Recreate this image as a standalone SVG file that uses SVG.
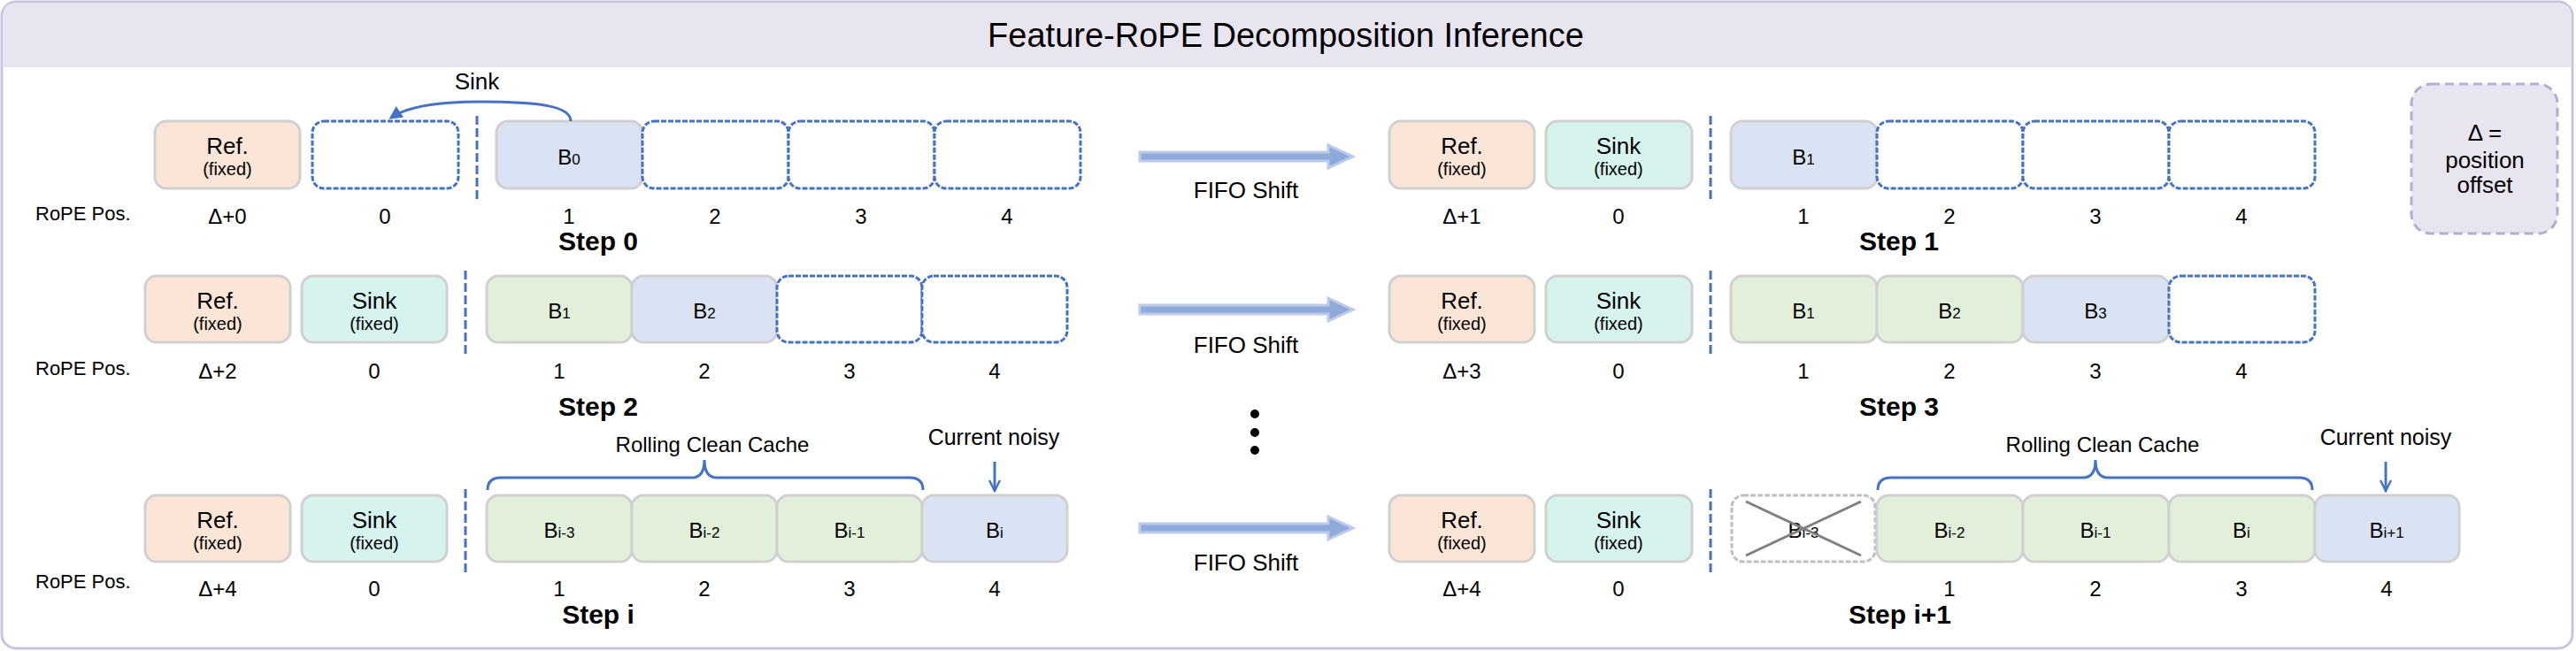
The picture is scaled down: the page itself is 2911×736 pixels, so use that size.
<svg xmlns="http://www.w3.org/2000/svg" width="2911" height="736" viewBox="0 0 2911 736">
<style>
text{font-family:"Comic Sans MS","Liberation Sans",sans-serif;fill:#000}
.title{font-size:38px;text-anchor:middle}
.lbl{font-size:24px;text-anchor:middle}
.box{font-size:26px;text-anchor:middle}
.sm{font-size:20px;text-anchor:middle}
.pos{font-size:24px;text-anchor:middle}
.fl{font-size:26px;text-anchor:middle}
.cn{font-size:25px;text-anchor:middle}
.leg{font-size:26px;text-anchor:middle}
.rope{font-size:22px}
.step{font-size:30px;font-weight:bold;text-anchor:middle}
.ref{fill:#fbe5d6;stroke:#d0d0d0;stroke-width:3}
.sink{fill:#d6f3ee;stroke:#d0d0d0;stroke-width:3}
.blue{fill:#dae3f3;stroke:#d0d0d0;stroke-width:3}
.green{fill:#e2f0d9;stroke:#d0d0d0;stroke-width:3}
.empty{fill:#fff;stroke:#4472c4;stroke-width:3;stroke-dasharray:6 2}
.gone{fill:#fff;stroke:#c0c0c0;stroke-width:3;stroke-dasharray:6 2}
.sep{stroke:#4472c4;stroke-width:3;stroke-dasharray:10 4;fill:none}
.bl{stroke:#4472c4;stroke-width:3;fill:none}
.fifo{fill:#8eaadb;stroke:#bccbea;stroke-width:3}
.sub{font-size:17px}
</style>
<defs>
<marker id="ah" viewBox="0 0 10 10" refX="8" refY="5" markerWidth="5" markerHeight="5" orient="auto-start-reverse" markerUnits="strokeWidth">
<path d="M0,0 L10,5 L0,10 z" fill="#4472c4"/>
</marker>
<marker id="va" viewBox="0 0 10 10" refX="9" refY="5" markerWidth="5" markerHeight="5" orient="auto" markerUnits="strokeWidth">
<path d="M1,1 L9,5 L1,9" fill="none" stroke="#4472c4" stroke-width="1.6"/>
</marker>
</defs>

<g id="frame">
<rect x="2" y="2" width="2905" height="731" rx="16" fill="#fff" stroke="#cbc3de" stroke-width="3"/>
<path d="M3.5,76 L3.5,18 Q3.5,3.5 18,3.5 L2891,3.5 Q2905.5,3.5 2905.5,18 L2905.5,76 Z" fill="#e8e5f1"/>
<text class="title" x="1453" y="53">Feature-RoPE Decomposition Inference</text>
</g>

<g id="legend">
<rect x="2725" y="95" width="165" height="169" rx="22" fill="#e8e4f0" stroke="#b6accf" stroke-width="3" stroke-dasharray="10 6"/>
<text class="leg" x="2808" y="159">Δ =</text>
<text class="leg" x="2808" y="190">position</text>
<text class="leg" x="2808" y="218">offset</text>
</g>

<g id="step0">
<text class="rope" x="40" y="249">RoPE Pos.</text>
<rect class="ref" x="175" y="137" width="164" height="76" rx="13"/>
<text class="box" x="257" y="174">Ref.</text><text class="sm" x="257" y="198">(fixed)</text>
<rect class="empty" x="353" y="137" width="165" height="76" rx="13"/>
<rect class="blue" x="561" y="137" width="165" height="76" rx="13"/>
<text class="lbl" x="643" y="186">B<tspan class="sub">0</tspan></text>
<rect class="empty" x="726" y="137" width="165" height="76" rx="13"/>
<rect class="empty" x="891" y="137" width="165" height="76" rx="13"/>
<rect class="empty" x="1056" y="137" width="165" height="76" rx="13"/>
<text class="pos" x="257" y="253">Δ+0</text>
<text class="pos" x="435" y="253">0</text>
<text class="pos" x="643" y="253">1</text>
<text class="pos" x="808" y="253">2</text>
<text class="pos" x="973" y="253">3</text>
<text class="pos" x="1138" y="253">4</text>
<text class="fl" x="539" y="101">Sink</text>
<text class="step" x="676" y="283">Step 0</text>
</g>

<g id="step1">
<rect class="ref" x="1570" y="137" width="164" height="76" rx="13"/>
<text class="box" x="1652" y="174">Ref.</text><text class="sm" x="1652" y="198">(fixed)</text>
<rect class="sink" x="1747" y="137" width="165" height="76" rx="13"/>
<text class="box" x="1829" y="174">Sink</text><text class="sm" x="1829" y="198">(fixed)</text>
<rect class="blue" x="1956" y="137" width="165" height="76" rx="13"/>
<text class="lbl" x="2038" y="186">B<tspan class="sub">1</tspan></text>
<rect class="empty" x="2121" y="137" width="165" height="76" rx="13"/>
<rect class="empty" x="2286" y="137" width="165" height="76" rx="13"/>
<rect class="empty" x="2451" y="137" width="165" height="76" rx="13"/>
<text class="pos" x="1652" y="253">Δ+1</text>
<text class="pos" x="1829" y="253">0</text>
<text class="pos" x="2038" y="253">1</text>
<text class="pos" x="2203" y="253">2</text>
<text class="pos" x="2368" y="253">3</text>
<text class="pos" x="2533" y="253">4</text>
<text class="step" x="2146" y="283">Step 1</text>
</g>

<g id="step2">
<text class="rope" x="40" y="424">RoPE Pos.</text>
<rect class="ref" x="164" y="312" width="164" height="75" rx="13"/>
<text class="box" x="246" y="349">Ref.</text><text class="sm" x="246" y="373">(fixed)</text>
<rect class="sink" x="341" y="312" width="164" height="75" rx="13"/>
<text class="box" x="423" y="349">Sink</text><text class="sm" x="423" y="373">(fixed)</text>
<rect class="green" x="550" y="312" width="164" height="75" rx="13"/>
<text class="lbl" x="632" y="360">B<tspan class="sub">1</tspan></text>
<rect class="blue" x="714" y="312" width="164" height="75" rx="13"/>
<text class="lbl" x="796" y="360">B<tspan class="sub">2</tspan></text>
<rect class="empty" x="878" y="312" width="164" height="75" rx="13"/>
<rect class="empty" x="1042" y="312" width="164" height="75" rx="13"/>
<text class="pos" x="246" y="428">Δ+2</text>
<text class="pos" x="423" y="428">0</text>
<text class="pos" x="632" y="428">1</text>
<text class="pos" x="796" y="428">2</text>
<text class="pos" x="960" y="428">3</text>
<text class="pos" x="1124" y="428">4</text>
<text class="step" x="676" y="470">Step 2</text>
</g>

<g id="step3">
<rect class="ref" x="1570" y="312" width="164" height="75" rx="13"/>
<text class="box" x="1652" y="349">Ref.</text><text class="sm" x="1652" y="373">(fixed)</text>
<rect class="sink" x="1747" y="312" width="165" height="75" rx="13"/>
<text class="box" x="1829" y="349">Sink</text><text class="sm" x="1829" y="373">(fixed)</text>
<rect class="green" x="1956" y="312" width="165" height="75" rx="13"/>
<text class="lbl" x="2038" y="360">B<tspan class="sub">1</tspan></text>
<rect class="green" x="2121" y="312" width="165" height="75" rx="13"/>
<text class="lbl" x="2203" y="360">B<tspan class="sub">2</tspan></text>
<rect class="blue" x="2286" y="312" width="165" height="75" rx="13"/>
<text class="lbl" x="2368" y="360">B<tspan class="sub">3</tspan></text>
<rect class="empty" x="2451" y="312" width="165" height="75" rx="13"/>
<text class="pos" x="1652" y="428">Δ+3</text>
<text class="pos" x="1829" y="428">0</text>
<text class="pos" x="2038" y="428">1</text>
<text class="pos" x="2203" y="428">2</text>
<text class="pos" x="2368" y="428">3</text>
<text class="pos" x="2533" y="428">4</text>
<text class="step" x="2146" y="470">Step 3</text>
</g>

<g id="ellipsis">
<circle cx="1418" cy="468" r="5"/>
<circle cx="1418" cy="489" r="5"/>
<circle cx="1418" cy="509" r="5"/>
</g>

<g id="stepi">
<text class="rope" x="40" y="665">RoPE Pos.</text>
<rect class="ref" x="164" y="560" width="164" height="75" rx="13"/>
<text class="box" x="246" y="597">Ref.</text><text class="sm" x="246" y="621">(fixed)</text>
<rect class="sink" x="341" y="560" width="164" height="75" rx="13"/>
<text class="box" x="423" y="597">Sink</text><text class="sm" x="423" y="621">(fixed)</text>
<rect class="green" x="550" y="560" width="164" height="75" rx="13"/>
<text class="lbl" x="632" y="608">B<tspan class="sub">i-3</tspan></text>
<rect class="green" x="714" y="560" width="164" height="75" rx="13"/>
<text class="lbl" x="796" y="608">B<tspan class="sub">i-2</tspan></text>
<rect class="green" x="878" y="560" width="164" height="75" rx="13"/>
<text class="lbl" x="960" y="608">B<tspan class="sub">i-1</tspan></text>
<rect class="blue" x="1042" y="560" width="164" height="75" rx="13"/>
<text class="lbl" x="1124" y="608">B<tspan class="sub">i</tspan></text>
<text class="pos" x="246" y="674">Δ+4</text>
<text class="pos" x="423" y="674">0</text>
<text class="pos" x="632" y="674">1</text>
<text class="pos" x="796" y="674">2</text>
<text class="pos" x="960" y="674">3</text>
<text class="pos" x="1124" y="674">4</text>
<text class="lbl" x="805" y="511">Rolling Clean Cache</text>
<text class="cn" x="1123" y="503">Current noisy</text>
<text class="step" x="676" y="705">Step i</text>
</g>

<g id="stepi1">
<rect class="ref" x="1570" y="560" width="164" height="75" rx="13"/>
<text class="box" x="1652" y="597">Ref.</text><text class="sm" x="1652" y="621">(fixed)</text>
<rect class="sink" x="1747" y="560" width="165" height="75" rx="13"/>
<text class="box" x="1829" y="597">Sink</text><text class="sm" x="1829" y="621">(fixed)</text>
<rect class="gone" x="1957" y="560" width="162" height="75" rx="13"/>
<text class="lbl" x="2038" y="608">B<tspan class="sub">i-3</tspan></text>
<path d="M1973,567 L2103,628 M1973,628 L2103,567" stroke="#808080" stroke-width="3"/>
<rect class="green" x="2121" y="560" width="165" height="75" rx="13"/>
<text class="lbl" x="2203" y="608">B<tspan class="sub">i-2</tspan></text>
<rect class="green" x="2286" y="560" width="165" height="75" rx="13"/>
<text class="lbl" x="2368" y="608">B<tspan class="sub">i-1</tspan></text>
<rect class="green" x="2451" y="560" width="165" height="75" rx="13"/>
<text class="lbl" x="2533" y="608">B<tspan class="sub">i</tspan></text>
<rect class="blue" x="2616" y="560" width="163" height="75" rx="13"/>
<text class="lbl" x="2697" y="608">B<tspan class="sub">i+1</tspan></text>
<text class="pos" x="1652" y="674">Δ+4</text>
<text class="pos" x="1829" y="674">0</text>
<text class="pos" x="2203" y="674">1</text>
<text class="pos" x="2368" y="674">2</text>
<text class="pos" x="2533" y="674">3</text>
<text class="pos" x="2697" y="674">4</text>
<text class="lbl" x="2376" y="511">Rolling Clean Cache</text>
<text class="cn" x="2696" y="503">Current noisy</text>
<text class="step" x="2147" y="705">Step i+1</text>
</g>

<g id="fifo">
<path class="fifo" d="M1288,172 L1501,172 L1501,164 L1529,177 L1501,190 L1501,182 L1288,182 Z"/>
<text class="fl" x="1408" y="224">FIFO Shift</text>
<path class="fifo" d="M1288,345 L1501,345 L1501,337 L1529,350 L1501,363 L1501,355 L1288,355 Z"/>
<text class="fl" x="1408" y="399">FIFO Shift</text>
<path class="fifo" d="M1288,592 L1501,592 L1501,584 L1529,597 L1501,610 L1501,602 L1288,602 Z"/>
<text class="fl" x="1408" y="645">FIFO Shift</text>
</g>

<g id="connectors">
<line class="sep" x1="539" y1="131" x2="539" y2="229"/>
<line class="sep" x1="1933" y1="131" x2="1933" y2="229"/>
<line class="sep" x1="526" y1="306" x2="526" y2="403"/>
<line class="sep" x1="1933" y1="306" x2="1933" y2="403"/>
<line class="sep" x1="526" y1="553" x2="526" y2="651"/>
<line class="sep" x1="1933" y1="553" x2="1933" y2="651"/>
<path class="bl" d="M645,137 C645,120 610,115 542,115 C490,115 458,122 442,133" marker-end="url(#ah)"/>
<path class="bl" d="M551,554 Q551,540 566,540 L782,540 Q796,540 796,520 Q796,540 810,540 L1028,540 Q1043,540 1043,554"/>
<path class="bl" d="M2122,554 Q2122,540 2137,540 L2354,540 Q2368,540 2368,520 Q2368,540 2382,540 L2598,540 Q2613,540 2613,554"/>
<line class="bl" x1="1124" y1="522" x2="1124" y2="555" stroke-width="2.5" marker-end="url(#va)"/>
<line class="bl" x1="2696" y1="522" x2="2696" y2="555" stroke-width="2.5" marker-end="url(#va)"/>
</g>
</svg>
